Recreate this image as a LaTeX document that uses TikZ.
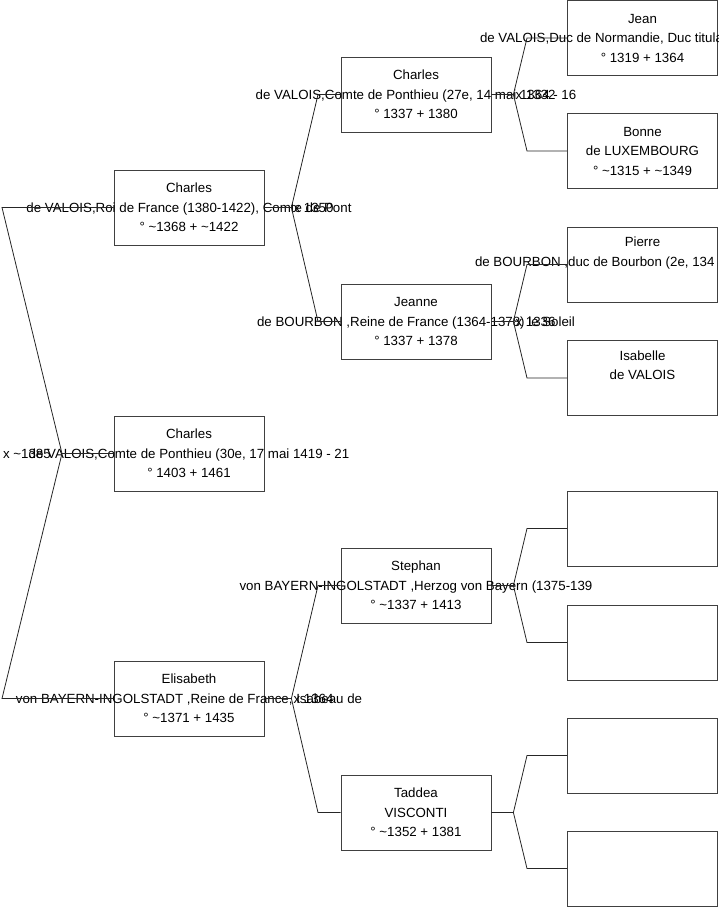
\documentclass[tikz,border=0pt]{standalone}
\usepackage{fontspec}
\setmainfont{Liberation Sans}
\newcommand{\ca}{\textasciitilde}
\begin{document}
\begin{tikzpicture}[x=1pt, y=-1pt,
    box/.style={draw=black!75, line width=0.8pt, minimum width=150pt, minimum height=75pt, inner sep=0pt},
    txt/.style={align=center, inner sep=0pt, font=\fontsize{13.3}{19.5}\selectfont},
    lien/.style={line width=0.8pt, black!85},
    mariage/.style={inner sep=0pt, font=\fontsize{13.3}{19.5}\selectfont}
]
    \useasboundingbox (0,0) rectangle (719,908);
    \clip (0,0) rectangle (719,908);

    % Cadres des personnes
    \node[box] (C1) at (189,453.5) {};
    \node[box] (P1) at (189,207.5) {};
    \node[box] (M1) at (189,698.5) {};
    \node[box] (P2) at (416,94.5) {};
    \node[box] (M2) at (416,321.5) {};
    \node[box] (P3) at (416,585.5) {};
    \node[box] (M3) at (416,812.5) {};
    \foreach \y [count=\i] in {38,151,264.5,378,528.5,642.5,755.5,868.5} {
        \node[box] (A\i) at (642.5,\y) {};
    }

    % Textes
    \node[txt] (C1t) at (C1) {Charles\\de VALOIS,Comte de Ponthieu (30e, 17 mai 1419 - 21\\° 1403 + 1461};
    \node[txt] (P1t) at (P1) {Charles\\de VALOIS,Roi de France (1380-1422), Comte de Pont\\° \ca1368 + \ca1422};
    \node[txt] (M1t) at (M1) {Elisabeth\\von BAYERN-INGOLSTADT ,Reine de France, Isabeau de\\° \ca1371 + 1435};
    \node[txt] (P2t) at (P2) {Charles\\de VALOIS,Comte de Ponthieu (27e, 14 mai 1364 - 16\\° 1337 + 1380};
    \node[txt] (M2t) at (M2) {Jeanne\\de BOURBON ,Reine de France (1364-1378) le Soleil\\° 1337 + 1378};
    \node[txt] (P3t) at (P3) {Stephan\\von BAYERN-INGOLSTADT ,Herzog von Bayern (1375-139\\° \ca1337 + 1413};
    \node[txt] (M3t) at (M3) {Taddea\\VISCONTI\\° \ca1352 + 1381};
    \node[txt] (A1t) at (A1) {Jean\\\makebox[325pt][l]{de VALOIS,Duc de Normandie, Duc titula}\\° 1319 + 1364};
    \node[txt] (A2t) at (A2) {Bonne\\de LUXEMBOURG\\° \ca1315 + \ca1349};
    \node[txt] (A3t) at (A3) {Pierre\\\makebox[335pt][l]{de BOURBON ,duc de Bourbon (2e, 134}\\\strut};
    \node[txt] (A4t) at (A4) {Isabelle\\de VALOIS\\\strut};

    % Liens vers les parents
    \draw[lien] (C1.west) -- (62,453.5) coordinate (v0) -- (2,0 |- P1) -- (P1.west);
    \draw[lien] (v0) -- (2,0 |- M1) -- (M1.west);
    \foreach \e/\p/\m in {P1/P2/M2, M1/P3/M3} {
        \draw[lien] (\e.east) -- ++(27,0) coordinate (v\e) -- (318,0 |- \p) -- (\p.west);
        \draw[lien] (v\e) -- (318,0 |- \m) -- (\m.west);
    }
    \foreach \e/\p/\m in {P2/A1/A2, M2/A3/A4, P3/A5/A6, M3/A7/A8} {
        \draw[lien] (\e.east) -- ++(22,0) coordinate (v\e) -- (527,0 |- \p) -- (\p.west);
        \draw[lien] (v\e) -- (527,0 |- \m) -- (\m.west);
    }

    % Mariages
    \node[mariage, anchor=east] (x0) at ([xshift=-11pt]v0) {x \ca1385};
    \node[mariage, anchor=west] (x1) at ([xshift=2pt]vP1) {x 1350};
    \node[mariage, anchor=west] (x2) at ([xshift=2pt]vM1) {x 1364};
    \node[mariage, anchor=west] (x3) at ([xshift=2pt]vP2) {x 1332};
    \node[mariage, anchor=west] (x4) at ([xshift=2pt]vM2) {x 1336};
\end{tikzpicture}
\end{document}
